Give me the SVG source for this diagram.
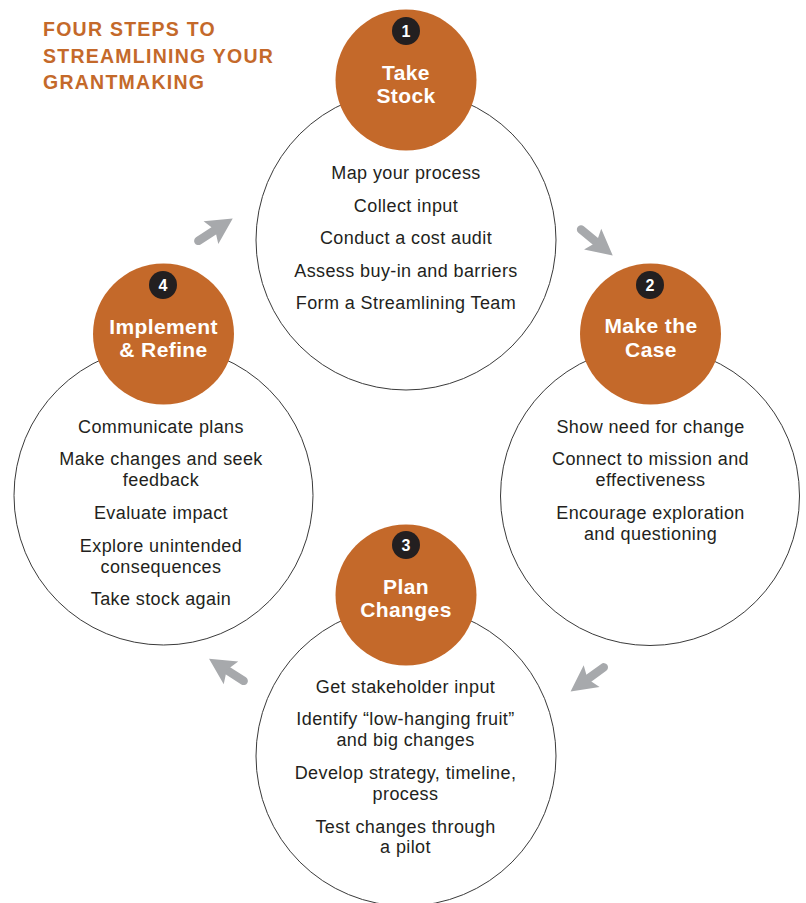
<svg xmlns="http://www.w3.org/2000/svg" xmlns:xlink="http://www.w3.org/1999/xlink" width="806" height="903" viewBox="0 0 806 903">
  <style>
    .ring { fill: #ffffff; stroke: #3a3a3a; stroke-width: 1; }
    .head { fill: #c4692a; }
    .badge { fill: #231f20; }
    .num { font-family: "Liberation Sans", Arial, Helvetica, sans-serif; font-weight: bold; font-size: 16px; fill: #ffffff; text-anchor: middle; }
    .htitle { font-family: "Liberation Sans", Arial, Helvetica, sans-serif; font-weight: bold; font-size: 21px; letter-spacing: 0.4px; fill: #ffffff; text-anchor: middle; }
    .body { font-family: "Liberation Sans", Arial, Helvetica, sans-serif; font-size: 18px; letter-spacing: 0.4px; fill: #231f20; text-anchor: middle; }
    .title { font-family: "Liberation Sans", Arial, Helvetica, sans-serif; font-weight: bold; font-size: 19.5px; letter-spacing: 1.25px; fill: #c4692a; }
    .arrow-shaft { stroke: #a7a9ac; stroke-width: 8.5; stroke-linecap: round; fill: none; }
    .arrow-head { fill: #a7a9ac; }
  </style>
  <defs>
    <g id="arrow">
      <line class="arrow-shaft" x1="4" y1="0" x2="26" y2="0"/>
      <polygon class="arrow-head" points="45,0 19,-13.5 24,0 19,13.5"/>
    </g>
  </defs>

  <g id="title">
    <text class="title" x="43" y="36">FOUR STEPS TO</text>
    <text class="title" x="43" y="62.5">STREAMLINING YOUR</text>
    <text class="title" x="43" y="89">GRANTMAKING</text>
  </g>

  <g id="connectors">
    <use xlink:href="#arrow" transform="translate(195,243) rotate(-33)"/>
    <use xlink:href="#arrow" transform="translate(578,227) rotate(39.5)"/>
    <use xlink:href="#arrow" transform="translate(607,665) rotate(144)"/>
    <use xlink:href="#arrow" transform="translate(247,683) rotate(212.5)"/>
  </g>

  <g id="step1">
    <circle class="ring" cx="406" cy="240" r="150"/>
    <circle class="head" cx="406" cy="80" r="70.5"/>
    <circle class="badge" cx="406" cy="31" r="14"/>
    <text class="num" x="406" y="37">1</text>
    <text class="htitle" x="406" y="80">Take</text>
    <text class="htitle" x="406" y="103">Stock</text>
    <text class="body" x="406" y="179">Map your process</text>
    <text class="body" x="406" y="212">Collect input</text>
    <text class="body" x="406" y="244">Conduct a cost audit</text>
    <text class="body" x="406" y="277">Assess buy-in and barriers</text>
    <text class="body" x="406" y="309">Form a Streamlining Team</text>
  </g>

  <g id="step2">
    <circle class="ring" cx="650" cy="496" r="149.5"/>
    <circle class="head" cx="650.5" cy="334" r="70.5"/>
    <circle class="badge" cx="650" cy="285" r="14"/>
    <text class="num" x="650" y="291">2</text>
    <text class="htitle" x="651" y="333">Make the</text>
    <text class="htitle" x="651" y="357">Case</text>
    <text class="body" x="650.5" y="433">Show need for change</text>
    <text class="body" x="650.5" y="465">Connect to mission and</text>
    <text class="body" x="650.5" y="486">effectiveness</text>
    <text class="body" x="650.5" y="519">Encourage exploration</text>
    <text class="body" x="650.5" y="540">and questioning</text>
  </g>

  <g id="step3">
    <circle class="ring" cx="406" cy="756" r="150"/>
    <circle class="head" cx="406" cy="595" r="70.5"/>
    <circle class="badge" cx="406" cy="545" r="14"/>
    <text class="num" x="406" y="551">3</text>
    <text class="htitle" x="406" y="594">Plan</text>
    <text class="htitle" x="406" y="617">Changes</text>
    <text class="body" x="405.5" y="693">Get stakeholder input</text>
    <text class="body" x="405.5" y="725">Identify “low-hanging fruit”</text>
    <text class="body" x="405.5" y="746">and big changes</text>
    <text class="body" x="405.5" y="779">Develop strategy, timeline,</text>
    <text class="body" x="405.5" y="800">process</text>
    <text class="body" x="405.5" y="833">Test changes through</text>
    <text class="body" x="405.5" y="853">a pilot</text>
  </g>

  <g id="step4">
    <circle class="ring" cx="163.5" cy="495.5" r="149.5"/>
    <circle class="head" cx="163.5" cy="334" r="70.5"/>
    <circle class="badge" cx="163" cy="285" r="14"/>
    <text class="num" x="163" y="291">4</text>
    <text class="htitle" x="163.5" y="334">Implement</text>
    <text class="htitle" x="163.5" y="357">&amp; Refine</text>
    <text class="body" x="161" y="433">Communicate plans</text>
    <text class="body" x="161" y="465">Make changes and seek</text>
    <text class="body" x="161" y="486">feedback</text>
    <text class="body" x="161" y="519">Evaluate impact</text>
    <text class="body" x="161" y="552">Explore unintended</text>
    <text class="body" x="161" y="573">consequences</text>
    <text class="body" x="161" y="605">Take stock again</text>
  </g>
</svg>
